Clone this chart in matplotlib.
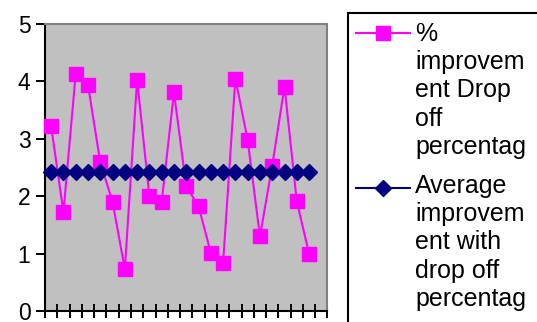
import numpy as np
import matplotlib
matplotlib.use('Agg')
import matplotlib.pyplot as plt
from matplotlib.lines import Line2D
from matplotlib.patches import Rectangle

plt.rcParams['font.family'] = ['Liberation Sans', 'DejaVu Sans']

# data (22 points, 23rd category empty)
improvement = [3.22, 1.72, 4.13, 3.94, 2.59, 1.90, 0.73, 4.03, 2.00, 1.90, 3.81,
               2.17, 1.83, 1.01, 0.84, 4.05, 2.98, 1.30, 2.53, 3.91, 1.91, 1.00]
average = [2.43, 2.43, 2.43, 2.43, 2.43, 2.43, 2.43, 2.43, 2.43, 2.43, 2.43,
           2.43, 2.43, 2.43, 2.43, 2.43, 2.43, 2.43, 2.43, 2.43, 2.43, 2.43]
n_categories = 23
labels = ['%\nimprovem\nent Drop\noff\npercentag',
          'Average\nimprovem\nent with\ndrop off\npercentag']

W, H = 537, 322
fig = plt.figure(figsize=(W/100, H/100), dpi=100)
ax = fig.add_axes([45/W, 1-311/H, (327.5-45)/W, (311-24)/H])
ax.set_facecolor('#C0C0C0')

ind = np.arange(1, len(improvement)+1)
ax.plot(ind, improvement, color='#FF00FF', linewidth=1.5,
        marker='s', markersize=9.5, zorder=3, clip_on=False)
ax.plot(ind, average, color='#000080', linewidth=1.5,
        marker='D', markersize=8, zorder=4, clip_on=False)

ax.set_xlim(0.5, n_categories+0.5)
ax.set_ylim(0, 5)
ax.set_yticks([0, 1, 2, 3, 4, 5])
ax.set_xticks(np.arange(0.5, n_categories+1, 1.0))
ax.set_xticklabels([])
ax.tick_params(axis='y', direction='out', length=6.5, width=1.4, labelsize=16.5, pad=4)
ax.tick_params(axis='x', direction='inout', length=9.5, width=1.4)

for s in ['left', 'bottom']:
    ax.spines[s].set_color('black')
    ax.spines[s].set_linewidth(1.5)
for s in ['top', 'right']:
    ax.spines[s].set_color('#808080')
    ax.spines[s].set_linewidth(1.5)

# legend box drawn by hand (clipped by figure edge like the original)
fig.patches.append(Rectangle((348/W, -0.1), 1.0, (1-13/H)+0.1, transform=fig.transFigure,
                             fill=False, edgecolor='black', linewidth=1.5))
colors = ['#FF00FF', '#000080']
markers = ['s', 'D']
msizes = [10, 8.5]
handle_y = [33, 188]
text_top = [22, 174]   # px from top
for lab, c, m, ms, y, ty in zip(labels, colors, markers, msizes, handle_y, text_top):
    fig.lines.append(Line2D([356/W, 410/W], [1-y/H, 1-y/H], transform=fig.transFigure,
                            color=c, linewidth=1.5))
    fig.lines.append(Line2D([383/W], [1-y/H], transform=fig.transFigure,
                            color=c, marker=m, markersize=ms, linestyle='none'))
    fig.text(415/W, 1-ty/H, lab, fontsize=18, va='top', ha='left', linespacing=1.22)

plt.savefig('out.png', format='png')
